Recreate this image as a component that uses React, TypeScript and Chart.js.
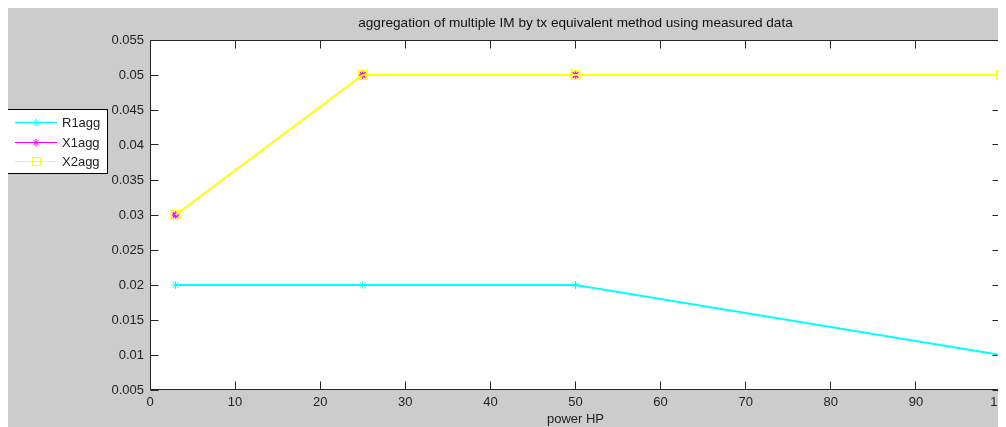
import React, { useEffect, useRef } from "react";
import { Chart, registerables } from "chart.js";

Chart.register(...registerables);

const powerHP = [3, 25, 50, 100];
const R1agg = [0.02, 0.02, 0.02, 0.01];
const X1agg = [0.03, 0.05, 0.05, 0.05];
const X2agg = [0.03, 0.05, 0.05, 0.05];
const seriesNames = ["R1agg", "X1agg", "X2agg"];
const xTicks = [0, 10, 20, 30, 40, 50, 60, 70, 80, 90, 100];
const xTickLabels = ["0", "10", "20", "30", "40", "50", "60", "70", "80", "90", "100"];
const yTicks = [0.005, 0.01, 0.015, 0.02, 0.025, 0.03, 0.035, 0.04, 0.045, 0.05, 0.055];
const yTickLabels = ["0.005", "0.01", "0.015", "0.02", "0.025", "0.03", "0.035", "0.04", "0.045", "0.05", "0.055"];
const titleText = "aggregation of multiple IM by tx equivalent method using measured data";
const xLabel = "power HP";

const FONT = "'Liberation Sans', Arial, sans-serif";
const TEXT_COLOR = "#222222";
const AXIS_COLOR = "#262626";
const CYAN = "#00ffff";
const MAGENTA = "#ff00ff";
const YELLOW = "#ffff00";

function drawAsterisk(ctx: CanvasRenderingContext2D, x: number, y: number, r: number, color: string) {
  ctx.save();
  ctx.strokeStyle = color;
  ctx.lineWidth = 1;
  ctx.beginPath();
  ctx.moveTo(x - r, y);
  ctx.lineTo(x + r, y);
  ctx.moveTo(x, y - r);
  ctx.lineTo(x, y + r);
  const d = r * Math.SQRT1_2;
  ctx.moveTo(x - d, y - d);
  ctx.lineTo(x + d, y + d);
  ctx.moveTo(x - d, y + d);
  ctx.lineTo(x + d, y - d);
  ctx.stroke();
  ctx.restore();
}

const decorPlugin = {
  id: "matlabDecor",
  beforeDraw(chart: any) {
    const { ctx, chartArea } = chart;
    ctx.save();
    ctx.fillStyle = "#cccccc";
    ctx.fillRect(0, 0, chart.width, chart.height);
    ctx.fillStyle = "#ffffff";
    const L = Math.floor(chartArea.left), T = Math.floor(chartArea.top);
    ctx.fillRect(L, T, Math.ceil(chartArea.right) - L, Math.ceil(chartArea.bottom) - T);
    ctx.restore();
  },
  beforeDatasetsDraw(chart: any) {
    const { ctx, chartArea } = chart;
    const xs = chart.scales.x;
    const ys = chart.scales.y;
    const L = Math.floor(chartArea.left) + 0.5;
    const R = Math.ceil(chartArea.right) - 0.5;
    const T = Math.floor(chartArea.top) + 0.5;
    const B = Math.ceil(chartArea.bottom) - 0.5;
    const len = 8;
    ctx.save();
    ctx.strokeStyle = AXIS_COLOR;
    ctx.lineWidth = 1;
    ctx.beginPath();
    xTicks.forEach((v) => {
      const px = Math.floor(xs.getPixelForValue(v)) + 0.5;
      ctx.moveTo(px, B);
      ctx.lineTo(px, B - len);
      ctx.moveTo(px, T);
      ctx.lineTo(px, T + len);
    });
    yTicks.forEach((v) => {
      const py = Math.floor(ys.getPixelForValue(v)) + 0.5;
      ctx.moveTo(L, py);
      ctx.lineTo(L + len, py);
      ctx.moveTo(R, py);
      ctx.lineTo(R - len, py);
    });
    ctx.stroke();
    ctx.strokeRect(L, T, R - L, B - T);
    ctx.restore();
  },
  afterDraw(chart: any) {
    const { ctx, chartArea } = chart;
    ctx.save();
    // title
    ctx.fillStyle = "#111111";
    ctx.font = `13.6px ${FONT}`;
    ctx.textAlign = "center";
    ctx.textBaseline = "middle";
    ctx.fillText(titleText, (chartArea.left + chartArea.right) / 2, 15.5);

    // legend
    const bx = -0.5, by = 101.5, bw = 100, bh = 64;
    ctx.fillStyle = "#ffffff";
    ctx.fillRect(bx, by, bw, bh);
    ctx.strokeStyle = "#000000";
    ctx.lineWidth = 1;
    ctx.strokeRect(bx, by, bw, bh);
    const rows = [114.5, 134.5, 153.5];
    const colors = [CYAN, MAGENTA, YELLOW];
    ctx.font = `13px ${FONT}`;
    ctx.textAlign = "left";
    ctx.textBaseline = "middle";
    seriesNames.forEach((name, i) => {
      const y = rows[i];
      ctx.strokeStyle = colors[i];
      ctx.lineWidth = 1;
      ctx.beginPath();
      ctx.moveTo(7, y);
      ctx.lineTo(49, y);
      ctx.stroke();
      if (i < 2) {
        drawAsterisk(ctx, 28, y, 4, colors[i]);
      } else {
        ctx.strokeStyle = colors[i];
        ctx.strokeRect(24.5, y - 4, 8, 8);
      }
      ctx.fillStyle = TEXT_COLOR;
      ctx.fillText(name, 54, y + 0.5);
    });
    ctx.restore();
  },
};

export default function App() {
  const canvasRef = useRef<HTMLCanvasElement | null>(null);

  useEffect(() => {
    document.documentElement.style.overflow = "hidden";
    const canvas = canvasRef.current;
    if (!canvas) return;
    const mk = (arr: number[]) => powerHP.map((x, i) => ({ x, y: arr[i] }));
    const chart = new Chart(canvas, {
      type: "line",
      data: {
        datasets: [
          {
            label: seriesNames[0],
            data: mk(R1agg),
            borderColor: CYAN,
            backgroundColor: CYAN,
            borderWidth: 2,
            pointStyle: "star",
            pointRadius: 4,
            pointBorderWidth: 1,
            pointBorderColor: CYAN,
            clip: false,
            order: 2,
          },
          {
            label: seriesNames[1],
            data: mk(X1agg),
            borderColor: MAGENTA,
            backgroundColor: MAGENTA,
            borderWidth: 1,
            pointStyle: "star",
            pointRadius: 4,
            pointBorderWidth: 1.5,
            pointBorderColor: MAGENTA,
            clip: false,
            order: 1,
          },
          {
            label: seriesNames[2],
            data: mk(X2agg),
            borderColor: YELLOW,
            backgroundColor: "rgba(0,0,0,0)",
            borderWidth: 2,
            pointStyle: "rect",
            pointRadius: 6,
            pointBorderWidth: 1.5,
            pointBorderColor: YELLOW,
            pointBackgroundColor: "rgba(0,0,0,0)",
            clip: false,
            order: 0,
          },
        ],
      },
      options: {
        animation: false,
        responsive: false,
        devicePixelRatio: 1,
        events: [],
        layout: { padding: { left: 0, right: 23, top: 32, bottom: 0 } },
        plugins: {
          legend: { display: false },
          title: { display: false },
          tooltip: { enabled: false },
        },
        scales: {
          x: {
            type: "linear",
            min: 0,
            max: 100,
            afterBuildTicks: (s: any) => {
              s.ticks = xTicks.map((v) => ({ value: v }));
            },
            afterFit: (s: any) => {
              s.height = 37;
            },
            grid: { display: false, drawTicks: false },
            border: { display: false },
            ticks: {
              autoSkip: false,
              maxRotation: 0,
              padding: 5,
              color: TEXT_COLOR,
              font: { family: FONT, size: 13 },
              callback: (_v: any, i: number) => xTickLabels[i],
            },
            title: {
              display: true,
              text: xLabel,
              color: TEXT_COLOR,
              font: { family: FONT, size: 13, lineHeight: 1.2 },
              padding: { top: 0, bottom: 0 },
            },
          },
          y: {
            type: "linear",
            min: 0.005,
            max: 0.055,
            afterBuildTicks: (s: any) => {
              s.ticks = yTicks.map((v) => ({ value: v }));
            },
            afterFit: (s: any) => {
              s.width = 142;
            },
            grid: { display: false, drawTicks: false },
            border: { display: false },
            ticks: {
              autoSkip: false,
              padding: 6,
              color: TEXT_COLOR,
              font: { family: FONT, size: 13 },
              callback: (_v: any, i: number) => yTickLabels[i],
            },
          },
        },
      },
      plugins: [decorPlugin],
    } as any);
    return () => chart.destroy();
  }, []);

  return (
    <div style={{ width: 998, height: 419, overflow: "hidden", background: "#cccccc" }}>
      <canvas ref={canvasRef} width={1016} height={419} style={{ display: "block" }} />
    </div>
  );
}
